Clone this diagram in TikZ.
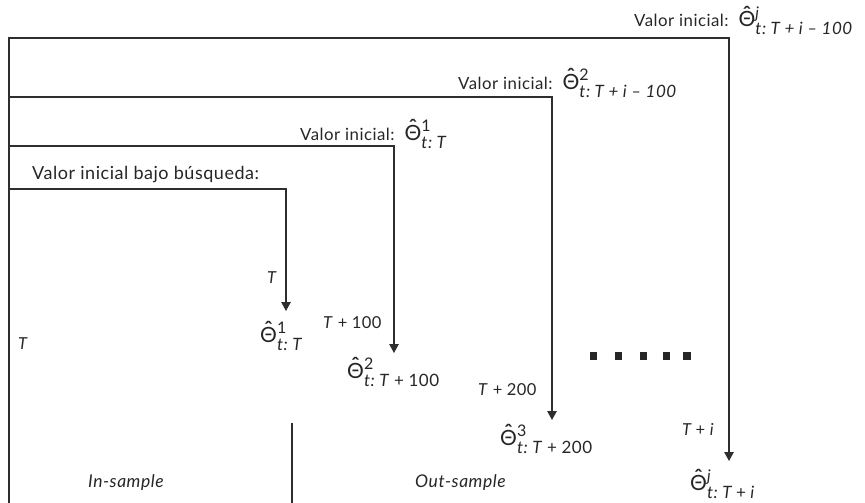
\documentclass[tikz,border=0pt]{standalone}
\usepackage{fontspec}
\setmainfont{Lato}[LetterSpace=3]
\usetikzlibrary{arrows.meta}
% hatted Theta built from a spacing circumflex centred over the letter
\newsavebox\thetabox
\newcommand{\hatTheta}{\leavevmode\sbox\thetabox{Θ}\rlap{\hbox to\wd\thetabox{\hss\raisebox{0.27em}{\bfseries ˆ}\hss}}\usebox\thetabox}
% word space used around operators
\newcommand{\opsp}{\hspace{4.5pt}}
% estimate symbol: hatted Theta with a superscript and an italic subscript
\newcommand{\estim}[2]{\mbox{\fontsize{21}{25}\selectfont\hatTheta}\rlap{\raisebox{8.5pt}{\fontsize{16}{19}\selectfont #1}}\raisebox{-8pt}{\fontsize{17}{20}\selectfont\itshape #2}}
\begin{document}
\begin{tikzpicture}[x=1pt,y=-1pt,
  link/.style={line width=1.2pt, draw=black!82},
  tip/.style={-{Triangle[length=9pt,width=9.5pt]}},
  lbl/.style={anchor=base west, inner sep=0pt, font=\fontsize{16.8}{20}\selectfont, text=black!85},
  big/.style={anchor=base west, inner sep=0pt, font=\fontsize{18}{21}\selectfont, text=black!85},
  ital/.style={anchor=base west, inner sep=0pt, font=\fontsize{16.5}{19}\selectfont\itshape, text=black!85},
  samp/.style={anchor=base west, inner sep=0pt, font=\fontsize{17.5}{21}\selectfont\itshape, text=black!85},
  est/.style={anchor=base west, inner sep=0pt, text=black!85},
  dot/.style={fill=black!85, minimum size=7.5pt, inner sep=0pt, rectangle}]
\useasboundingbox (0,0) rectangle (865,503);

% corner and end points of the connectors
\coordinate (o)  at (9,503);
\coordinate (cj) at (729,38);
\coordinate (tj) at (729,461);
\coordinate (s2) at (9,97);
\coordinate (t2) at (552,420);
\coordinate (s3) at (9,146);
\coordinate (t3) at (394,353);
\coordinate (s4) at (9,189);
\coordinate (t4) at (286,311);
\coordinate (d1) at (292,423);
\coordinate (d2) at (292,503);

% connectors
\draw[link,tip] (o) |- (cj) -- (tj);
\draw[link,tip] (s2) -| (t2);
\draw[link,tip] (s3) -| (t3);
\draw[link,tip] (s4) -| (t4);
\draw[link] (d1) -- (d2);

% starting-value labels
\node[lbl] (vj) at (634,27) {Valor inicial:\hspace{10pt}\estim{\textit{j}}{t:\opsp T\opsp+\opsp i\opsp–\opsp100}};
\node[lbl] (v2) at (458,89) {Valor inicial:\hspace{10pt}\estim{2}{t:\opsp T\opsp+\opsp i\opsp–\opsp100}};
\node[lbl] (v1) at (300,140) {Valor inicial:\hspace{10pt}\estim{1}{t:\opsp T}};
\node[big] (v0) at (32,179) {Valor inicial bajo búsqueda:};

% time labels
\node[ital] (lt0) at (18,349) {T};
\node[ital] (lt1) at (267,283) {T};
\node[ital] (lt2) at (323,328) {T\/\opsp\upshape+\opsp100};
\node[ital] (lt3) at (478,395) {T\/\opsp\upshape+\opsp200};
\node[ital] (lti) at (682,435) {T\opsp\upshape+\opsp\itshape i};

% estimates
\node[est] (e1) at (260,342) {\estim{1}{t:\opsp T}};
\node[est] (e2) at (347,378) {\estim{2}{t:\opsp T\/\opsp\upshape+\opsp100}};
\node[est] (e3) at (500,445) {\estim{3}{t:\opsp T\/\opsp\upshape+\opsp200}};
\node[est] (ej) at (690,490) {\estim{\textit{j}}{t:\opsp T\opsp\upshape+\opsp\itshape i}};

% ellipsis
\foreach \x [count=\k] in {593.5,618.5,643.5,666.5,687} {
  \node[dot] (p\k) at (\x,356) {};
}

% sample regions
\node[samp] (ins) at (88,487) {In-sample};
\node[samp] (outs) at (415,487) {Out-sample};
\end{tikzpicture}
\end{document}
